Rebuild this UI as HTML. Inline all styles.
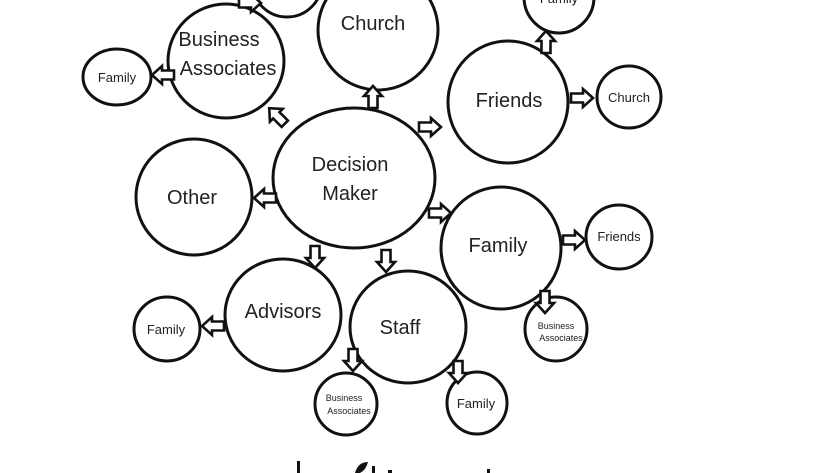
<!DOCTYPE html>
<html><head><meta charset="utf-8"><style>
html,body{margin:0;padding:0;background:#fff;}
svg{display:block;}
text{font-family:"Liberation Sans","DejaVu Sans",sans-serif;fill:#222;text-anchor:middle;}
</style></head><body>
<svg width="840" height="473" viewBox="0 0 840 473" xmlns="http://www.w3.org/2000/svg">
<defs>
<path id="ar" d="M-11,-4.5 H1 V-9 L11,0 L1,9 V4.5 H-11 Z" fill="#fff" stroke="#111" stroke-width="2.6" stroke-linejoin="miter"/>
</defs>
<g fill="#fff" stroke="#111" stroke-width="3">
<ellipse cx="287" cy="-18" rx="35" ry="35"/>
<ellipse cx="378" cy="30" rx="60" ry="60"/>
<ellipse cx="226" cy="61" rx="58" ry="57"/>
<ellipse cx="117" cy="77" rx="34" ry="28"/>
<ellipse cx="508" cy="102" rx="60" ry="61"/>
<ellipse cx="559" cy="-3" rx="35" ry="36"/>
<ellipse cx="629" cy="97" rx="32" ry="31"/>
<ellipse cx="354" cy="178" rx="81" ry="70"/>
<ellipse cx="194" cy="197" rx="58" ry="58"/>
<ellipse cx="501" cy="248" rx="60" ry="61"/>
<ellipse cx="619" cy="237" rx="33" ry="32"/>
<ellipse cx="556" cy="329" rx="31" ry="32"/>
<ellipse cx="283" cy="315" rx="58" ry="56"/>
<ellipse cx="167" cy="329" rx="33" ry="32"/>
<ellipse cx="408" cy="327" rx="58" ry="56"/>
<ellipse cx="346" cy="404" rx="31" ry="31"/>
<ellipse cx="477" cy="403" rx="30" ry="31"/>
</g>
<use href="#ar" transform="translate(250,3)"/>
<use href="#ar" transform="translate(163,75) rotate(180)"/>
<use href="#ar" transform="translate(277,116) rotate(225)"/>
<use href="#ar" transform="translate(373,97) rotate(-90)"/>
<use href="#ar" transform="translate(430,127)"/>
<use href="#ar" transform="translate(546,42) rotate(-90)"/>
<use href="#ar" transform="translate(582,98)"/>
<use href="#ar" transform="translate(265,198) rotate(180)"/>
<use href="#ar" transform="translate(440,213)"/>
<use href="#ar" transform="translate(574,240)"/>
<use href="#ar" transform="translate(545,302) rotate(90)"/>
<use href="#ar" transform="translate(315,257) rotate(90)"/>
<use href="#ar" transform="translate(386,261) rotate(90)"/>
<use href="#ar" transform="translate(213,326) rotate(180)"/>
<use href="#ar" transform="translate(353,360) rotate(90)"/>
<use href="#ar" transform="translate(458,372) rotate(90)"/>
<g font-size="20">
<text x="373" y="30">Church</text>
<text x="219" y="46">Business</text>
<text x="228" y="75">Associates</text>
<text x="509" y="107">Friends</text>
<text x="350" y="171">Decision</text>
<text x="350" y="200">Maker</text>
<text x="192" y="204">Other</text>
<text x="498" y="252">Family</text>
<text x="283" y="318">Advisors</text>
<text x="400" y="334">Staff</text>
</g>
<g font-size="13">
<text x="117" y="82">Family</text>
<text x="629" y="102">Church</text>
<text x="619" y="241">Friends</text>
<text x="166" y="334">Family</text>
<text x="476" y="408">Family</text>
<text x="559" y="3">Family</text>
</g>
<g font-size="9">
<text x="556" y="329">Business</text>
<text x="561" y="341">Associates</text>
<text x="344" y="401">Business</text>
<text x="349" y="414">Associates</text>
</g>
<g fill="#111">
<rect x="297" y="461" width="3" height="12"/>
<path d="M355,473 Q358,462 368,462 Q366,470 360,473 Z"/>
<rect x="372" y="466" width="3" height="7"/>
<rect x="388" y="470" width="4" height="3"/>
<rect x="487" y="469" width="3" height="4"/>
</g>
</svg>
</body></html>
